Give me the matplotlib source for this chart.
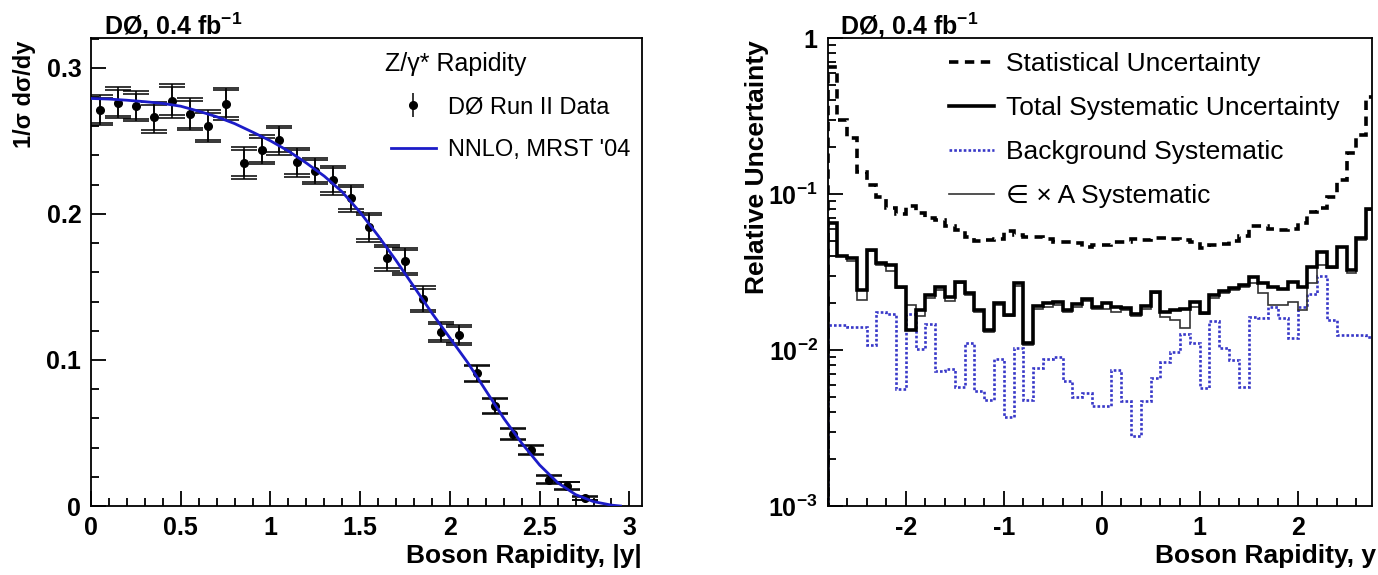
import numpy as np
import matplotlib
matplotlib.use("Agg")
import matplotlib.pyplot as plt
from matplotlib.ticker import MultipleLocator, FixedLocator, FixedFormatter, LogLocator, NullFormatter
from matplotlib.lines import Line2D

plt.rcParams['font.family'] = ['Liberation Sans', 'DejaVu Sans']
plt.rcParams['mathtext.default'] = 'regular'
plt.rcParams['font.weight'] = 'bold'

# ---------------- data: left panel ----------------
y_abs = [0.05, 0.15, 0.25, 0.35, 0.45, 0.55, 0.65, 0.75, 0.85, 0.95, 1.05, 1.15, 1.25, 1.35,
         1.45, 1.55, 1.65, 1.75, 1.85, 1.95, 2.05, 2.15, 2.25, 2.35, 2.45, 2.55, 2.65, 2.75]
dsigma = [0.271, 0.276, 0.2737, 0.266, 0.2773, 0.2682, 0.260, 0.2755, 0.2348, 0.244, 0.2503,
          0.2352, 0.2293, 0.2229, 0.2107, 0.1908, 0.170, 0.1675, 0.1416, 0.119, 0.1172, 0.0908,
          0.0684, 0.0493, 0.0385, 0.0181, 0.0138, 0.0053]
err_total = [0.0103, 0.0106, 0.0104, 0.0104, 0.0116, 0.011, 0.011, 0.011, 0.0107, 0.010, 0.010,
             0.010, 0.009, 0.010, 0.0094, 0.010, 0.0088, 0.0094, 0.0088, 0.0069, 0.0069, 0.006,
             0.0057, 0.0041, 0.0035, 0.0028, 0.0029, 0.0015]
err_stat = [0.0085, 0.0088, 0.0086, 0.0086, 0.0097, 0.0091, 0.0091, 0.0091, 0.0089, 0.0082, 0.0082,
            0.0082, 0.0074, 0.0082, 0.0077, 0.0082, 0.0072, 0.0077, 0.0072, 0.0056, 0.0056, 0.0049,
            0.0046, 0.0033, 0.0028, 0.0022, 0.0023, 0.0012]
theory_y = [0.0, 0.1, 0.2, 0.3, 0.4, 0.5, 0.6, 0.7, 0.8, 0.9, 1.0, 1.1, 1.2, 1.3, 1.4, 1.5,
            1.6, 1.7, 1.8, 1.9, 2.0, 2.1, 2.2, 2.3, 2.4, 2.5, 2.6, 2.7, 2.8, 2.9, 2.95]
theory_val = [0.279, 0.2786, 0.2778, 0.2768, 0.2756, 0.2737, 0.2703, 0.2665, 0.2618, 0.2560,
              0.2500, 0.2430, 0.2348, 0.2258, 0.2150, 0.2010, 0.1850, 0.1680, 0.1500, 0.1320,
              0.1150, 0.0980, 0.0790, 0.0600, 0.0430, 0.0280, 0.0160, 0.0078, 0.0030, 0.0006, 0.0]

# ---------------- data: right panel ----------------
bin_lo, bin_hi, bin_w = -2.8, 2.8, 0.1
stat_unc = [0.65, 0.30, 0.229, 0.139, 0.114, 0.096, 0.081, 0.074, 0.084, 0.075,
            0.070, 0.068, 0.0625, 0.059, 0.0528, 0.0503, 0.0508, 0.0513, 0.0575, 0.0547,
            0.0533, 0.053, 0.0513, 0.0496, 0.049, 0.0483, 0.046, 0.047,
            0.047, 0.049, 0.0496, 0.0513, 0.0508, 0.052, 0.052, 0.0513, 0.0508, 0.0496,
            0.045, 0.047, 0.048, 0.0503, 0.054, 0.0625, 0.0625, 0.060, 0.059, 0.060,
            0.065, 0.077, 0.081, 0.096, 0.123, 0.183, 0.24, 0.42]
tot_syst = [0.065, 0.0402, 0.0388, 0.0242, 0.0438, 0.036, 0.035, 0.0255, 0.0135, 0.0180,
            0.0225, 0.0253, 0.022, 0.0274, 0.0231, 0.018, 0.0135, 0.020, 0.0168, 0.0267,
            0.0111, 0.0192, 0.0199, 0.0204, 0.018, 0.0197, 0.0211, 0.0188,
            0.0199, 0.0188, 0.0185, 0.0169, 0.0191, 0.0237, 0.0176, 0.018, 0.0182, 0.0204,
            0.0173, 0.0226, 0.024, 0.0249, 0.0261, 0.0292, 0.0267, 0.0255, 0.0245, 0.0274,
            0.0255, 0.0339, 0.0427, 0.0339, 0.046, 0.0326, 0.052, 0.08]
bkg_syst = [0.0145, 0.0145, 0.0141, 0.014, 0.0108, 0.0174, 0.017, 0.0056, 0.017, 0.0101,
            0.0146, 0.0073, 0.0076, 0.0058, 0.0111, 0.0055, 0.0048, 0.0087, 0.0037, 0.0103,
            0.0048, 0.0077, 0.0088, 0.009, 0.0063, 0.005, 0.0053, 0.0044,
            0.0044, 0.0074, 0.0047, 0.0028, 0.0047, 0.0066, 0.0084, 0.0097, 0.0127, 0.0111,
            0.0057, 0.0154, 0.0103, 0.0086, 0.0058, 0.0163, 0.016, 0.019, 0.016, 0.0119,
            0.019, 0.023, 0.030, 0.0155, 0.0125, 0.0125, 0.0125, 0.0121]
effacc_syst = [0.060, 0.040, 0.037, 0.0209, 0.043, 0.035, 0.032, 0.025, 0.0195, 0.0165,
               0.0215, 0.0242, 0.0205, 0.0267, 0.0226, 0.0176, 0.0131, 0.0194, 0.0165, 0.0258,
               0.0108, 0.0182, 0.019, 0.0194, 0.0176, 0.019, 0.0205, 0.0182,
               0.0182, 0.0176, 0.018, 0.0166, 0.0182, 0.0231, 0.0163, 0.0155, 0.0138, 0.019,
               0.017, 0.0215, 0.0231, 0.0242, 0.0255, 0.0267, 0.0231, 0.0194, 0.0194, 0.0204,
               0.018, 0.0267, 0.0351, 0.0335, 0.0455, 0.031, 0.051, 0.079]

left_xticks = [0, 0.5, 1, 1.5, 2, 2.5, 3]
left_xticklabels = ['0', '0.5', '1', '1.5', '2', '2.5', '3']
left_yticks = [0, 0.1, 0.2, 0.3]
left_yticklabels = ['0', '0.1', '0.2', '0.3']
right_xticks = [-2, -1, 0, 1, 2]
right_xticklabels = ['-2', '-1', '0', '1', '2']
right_yticks = [1e-3, 1e-2, 1e-1, 1]
right_yticklabels = ['$10^{-3}$', '$10^{-2}$', '$10^{-1}$', '1']

# ---------------- figure ----------------
W, H = 1378, 575
fig = plt.figure(figsize=(W / 100, H / 100), dpi=100)
FS = 19
TFS = 18
BLUE = '#1c1cc8'
BKG = '#3838c8'

def fx(px):
    return px / W

def fy(py):
    return 1 - py / H

axL = fig.add_axes([fx(91), fy(506), fx(642) - fx(91), fy(38) - fy(506)])
axR = fig.add_axes([fx(827.5), fy(506), fx(1371.5) - fx(827.5), fy(38) - fy(506)])

for ax in (axL, axR):
    for s in ax.spines.values():
        s.set_linewidth(1.3)
    ax.tick_params(which='both', direction='in', top=False, right=False,
                   labelsize=TFS, width=1.3, pad=7)
    ax.tick_params(which='major', length=11)
    ax.tick_params(which='minor', length=5.5)

# ---- left panel ----
axL.errorbar(y_abs, dsigma, yerr=err_total, fmt='none', ecolor='black', elinewidth=1.1,
             capsize=9.5, capthick=1.1, zorder=3)
axL.errorbar(y_abs, dsigma, yerr=err_stat, fmt='o', color='black', ms=5.5, elinewidth=1.1,
             capsize=9.5, capthick=1.1, zorder=4)
axL.plot(theory_y, theory_val, color=BLUE, lw=2.0, zorder=5)
axL.set_xlim(0, 3.07)
axL.set_ylim(0, 0.3204)
axL.xaxis.set_major_locator(FixedLocator(left_xticks))
axL.xaxis.set_major_formatter(FixedFormatter(left_xticklabels))
axL.xaxis.set_minor_locator(MultipleLocator(0.1))
axL.yaxis.set_major_locator(FixedLocator(left_yticks))
axL.yaxis.set_major_formatter(FixedFormatter(left_yticklabels))
axL.yaxis.set_minor_locator(MultipleLocator(0.02))

# legend (left)
axL.text(fx(385), fy(64), 'Z/γ* Rapidity', transform=fig.transFigure, fontsize=18,
         fontweight='normal', ha='left', va='center')
h_data = axL.errorbar([], [], yerr=[], fmt='o', color='black', ms=5.5, elinewidth=1.1,
                      capsize=8, capthick=1.1)
h_th = Line2D([], [], color=BLUE, lw=2.0)
legL = axL.legend([h_data, h_th], ['DØ Run II Data', "NNLO, MRST '04"],
                  loc='upper left', bbox_to_anchor=(fx(391), fy(96)),
                  bbox_transform=fig.transFigure, frameon=False,
                  prop={'size': 17, 'weight': 'normal'}, handlelength=1.9,
                  handletextpad=0.5, labelspacing=0.9, borderpad=0, borderaxespad=0)

# ---- right panel ----
edges = np.round(np.arange(bin_lo, bin_hi + bin_w / 2, bin_w), 3)
axR.stairs(bkg_syst, edges, color=BKG, lw=1.9, linestyle=(0, (1, 0.8)), zorder=2)
axR.stairs(effacc_syst, edges, color='#333333', lw=1.2, zorder=3)
axR.stairs(tot_syst, edges, color='black', lw=2.6, zorder=4)
axR.stairs(stat_unc, edges, color='black', lw=2.6, linestyle=(0, (2.6, 1.8)), zorder=5)
axR.set_yscale('log')
axR.set_xlim(-2.8, 2.755)
axR.set_ylim(1e-3, 1)
axR.xaxis.set_major_locator(FixedLocator(right_xticks))
axR.xaxis.set_major_formatter(FixedFormatter(right_xticklabels))
axR.xaxis.set_minor_locator(MultipleLocator(0.2))
axR.yaxis.set_major_locator(FixedLocator(right_yticks))
axR.yaxis.set_major_formatter(FixedFormatter(right_yticklabels))
axR.yaxis.set_minor_locator(LogLocator(base=10, subs=np.arange(2, 10)))
axR.yaxis.set_minor_formatter(NullFormatter())

hs = [Line2D([], [], color='black', lw=2.6, linestyle=(0, (2.6, 1.8))),
      Line2D([], [], color='black', lw=2.6),
      Line2D([], [], color=BKG, lw=1.9, linestyle=(0, (1, 0.8))),
      Line2D([], [], color='#333333', lw=1.2)]
labs = ['Statistical Uncertainty', 'Total Systematic Uncertainty',
        'Background Systematic', '∈ × A Systematic']
legR = axR.legend(hs, labs, loc='upper left', bbox_to_anchor=(fx(949), fy(52)),
                  bbox_transform=fig.transFigure, frameon=False,
                  prop={'size': FS, 'weight': 'normal'}, handlelength=1.7,
                  handletextpad=0.45, labelspacing=0.76, borderpad=0, borderaxespad=0)

# titles and axis labels
fig.text(fx(104), fy(26), 'DØ, 0.4 fb$^{-1}$', fontsize=18, fontweight='bold', ha='left', va='center')
fig.text(fx(840), fy(26), 'DØ, 0.4 fb$^{-1}$', fontsize=18, fontweight='bold', ha='left', va='center')
fig.text(fx(24), fy(41), '1/σ dσ/dy', fontsize=17, fontweight='bold', rotation=90,
         ha='center', va='top')
fig.text(fx(757), fy(40), 'Relative Uncertainty', fontsize=FS, fontweight='bold', rotation=90,
         ha='center', va='top')
fig.text(fx(642), fy(556), 'Boson Rapidity, |y|', fontsize=FS, fontweight='bold', ha='right', va='center')
fig.text(fx(1376), fy(556), 'Boson Rapidity, y', fontsize=FS, fontweight='bold', ha='right', va='center')

fig.savefig('out.png', dpi=100)
